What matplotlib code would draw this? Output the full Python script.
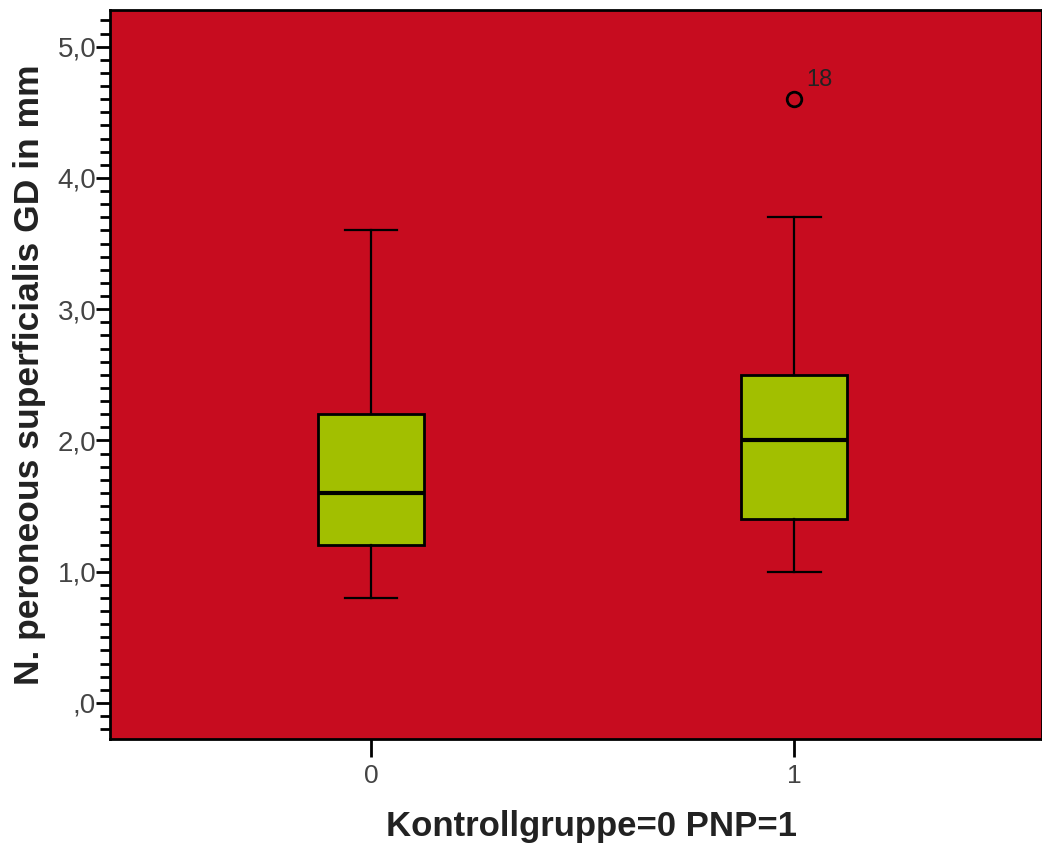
import matplotlib.pyplot as plt
from matplotlib.ticker import MultipleLocator, FuncFormatter

plt.rcParams['font.family'] = ['Liberation Sans', 'DejaVu Sans']

# Boxplot summary per group (Kontrollgruppe=0, PNP=1)
groups = ['0', '1']
whislo = [0.8, 1.0]
q1 = [1.2, 1.4]
med = [1.6, 2.0]
q3 = [2.2, 2.5]
whishi = [3.6, 3.7]
fliers = [[], [4.6]]
flier_ids = [[], ['18']]

stats = []
for i in range(len(groups)):
    stats.append({'whislo': whislo[i], 'q1': q1[i], 'med': med[i], 'q3': q3[i],
                  'whishi': whishi[i], 'fliers': fliers[i], 'label': groups[i]})

fig = plt.figure(figsize=(10.42, 8.46), dpi=100)
ax = fig.add_axes([0.1056, 0.1265, 0.8944, 0.8617])
ax.set_facecolor('#C70C1F')

ax.bxp(stats, positions=range(len(groups)), widths=0.25, patch_artist=True,
       boxprops=dict(facecolor='#A2BF00', edgecolor='black', linewidth=2),
       medianprops=dict(color='black', linewidth=3),
       whiskerprops=dict(color='black', linewidth=1.6),
       capprops=dict(color='black', linewidth=1.6),
       capwidths=0.125,
       flierprops=dict(marker='o', markersize=10.5, markerfacecolor='none',
                       markeredgecolor='black', markeredgewidth=2))

# case numbers next to the outliers
for i, (vals, ids) in enumerate(zip(fliers, flier_ids)):
    for v, t in zip(vals, ids):
        ax.annotate(t, (i, v), xytext=(9, 6), textcoords='offset points',
                    fontsize=17, ha='left', va='bottom', color='#222222')

ax.set_xlim(-0.617, 1.586)
ax.set_ylim(-0.275, 5.28)
ax.yaxis.set_major_locator(MultipleLocator(1))
ax.yaxis.set_minor_locator(MultipleLocator(0.1))
ax.yaxis.set_major_formatter(FuncFormatter(
    lambda v, p: ',0' if abs(v) < 1e-9 else f'{v:.1f}'.replace('.', ',')))
ax.set_xticks(range(len(groups)))
ax.set_xticklabels(groups)

ax.tick_params(axis='y', which='major', length=10, width=2, labelsize=20,
               color='black', labelcolor='#444444', pad=0)
ax.tick_params(axis='y', which='minor', length=7, width=2, color='black')
ax.tick_params(axis='x', length=13, width=2, labelsize=19, color='black',
               labelcolor='#444444', pad=5)

for s in ax.spines.values():
    s.set_linewidth(2)
    s.set_color('black')

ax.set_ylabel('N. peroneous superficialis GD in mm', fontsize=25.5, fontweight='bold',
              color='#222222', labelpad=8)
ax.set_xlabel('Kontrollgruppe=0 PNP=1', fontsize=25, fontweight='bold',
              color='#222222', labelpad=16)
ax.xaxis.set_label_coords(0.517, -0.098)

fig.savefig('out.png', dpi=100)
